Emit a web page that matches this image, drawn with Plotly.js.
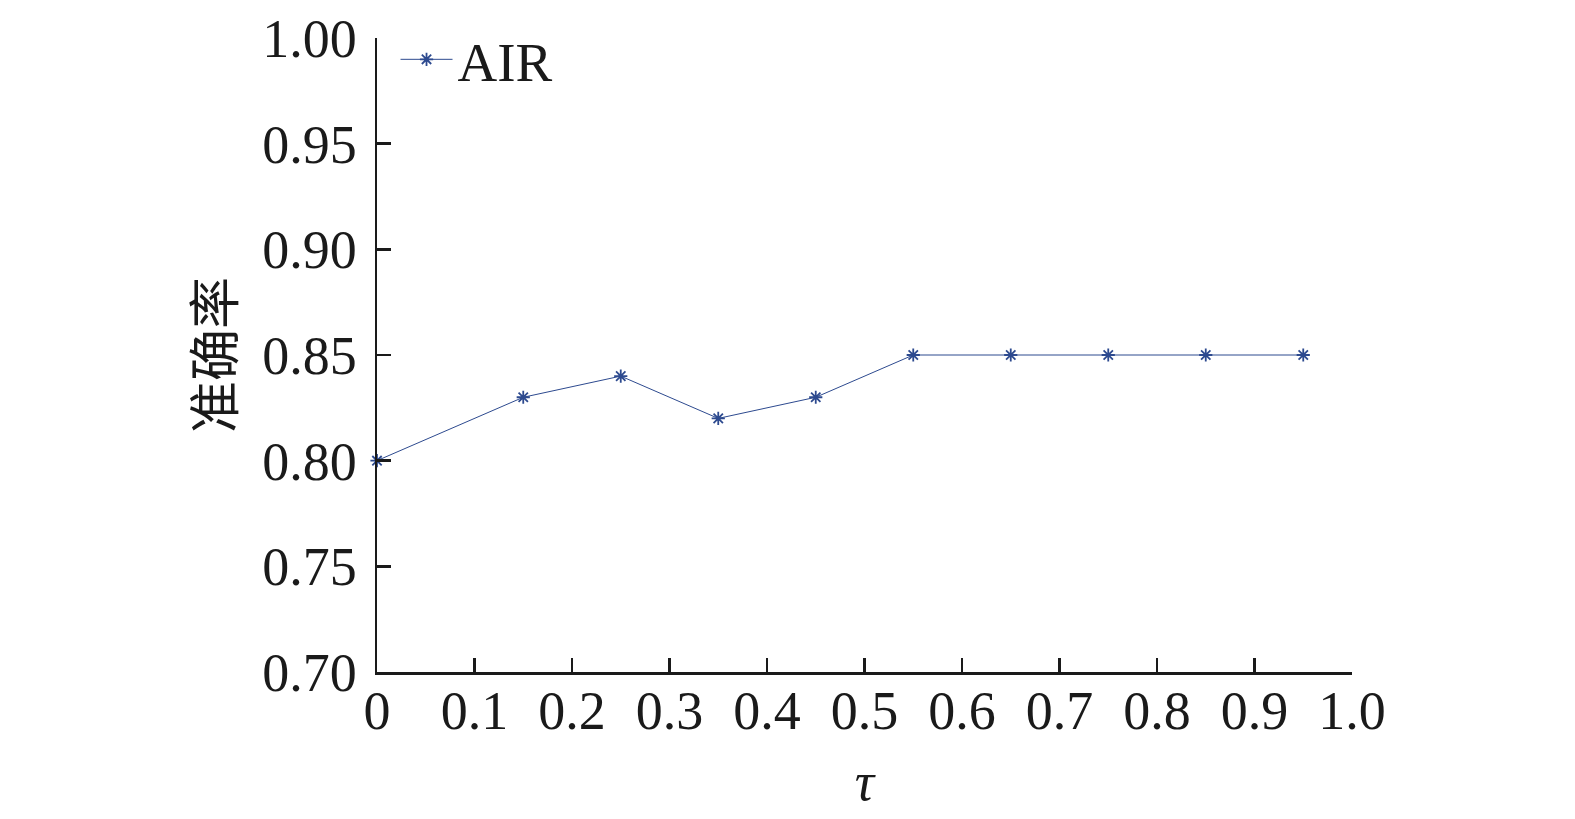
<!DOCTYPE html>
<html>
<head>
<meta charset="utf-8">
<script src="https://cdn.plot.ly/plotly-3.0.1.min.js"></script>
<style>html,body{margin:0;padding:0;background:#fff;}#chart{width:1575px;height:819px;}</style>
</head>
<body>
<div id="chart"></div>
<script>
const tau = [0, 0.15, 0.25, 0.35, 0.45, 0.55, 0.65, 0.75, 0.85, 0.95];
const accuracy = [0.80, 0.83, 0.84, 0.82, 0.83, 0.85, 0.85, 0.85, 0.85, 0.85];
const seriesName = 'AIR';
const xTickVals = [0, 0.1, 0.2, 0.3, 0.4, 0.5, 0.6, 0.7, 0.8, 0.9, 1.0];
const xTickText = ['0', '0.1', '0.2', '0.3', '0.4', '0.5', '0.6', '0.7', '0.8', '0.9', '1.0'];
const yTickVals = [0.70, 0.75, 0.80, 0.85, 0.90, 0.95, 1.00];
const yTickText = ['0.70', '0.75', '0.80', '0.85', '0.90', '0.95', '1.00'];

const serif = '"Liberation Serif", "Times New Roman", serif';
const lineColor = '#2d4a8f';

const trace = {
  x: tau, y: accuracy, name: seriesName, type: 'scatter', mode: 'lines+markers',
  line: {color: lineColor, width: 1},
  marker: {symbol: 'asterisk-open', size: 11, color: lineColor, line: {color: lineColor, width: 1.8}},
  cliponaxis: false
};

const layout = {
  width: 1575, height: 819,
  paper_bgcolor: '#fff', plot_bgcolor: '#fff',
  margin: {l: 377, r: 223, t: 38, b: 147},
  showlegend: true,
  legend: {x: 0.019, y: 1.033, xanchor: 'left', yanchor: 'top', bgcolor: 'rgba(0,0,0,0)',
           font: {family: serif, size: 55, color: '#1a1a1a'}, itemwidth: 52},
  xaxis: {
    range: [0, 1.0], tickmode: 'array', tickvals: xTickVals, ticktext: xTickText,
    showline: true, linecolor: '#1a1a1a', linewidth: 2.5, mirror: false,
    ticks: 'inside', ticklen: 14, tickwidth: 2.5, tickcolor: '#1a1a1a',
    showgrid: false, zeroline: false, ticklabelstandoff: -10,
    tickfont: {family: serif, size: 54, color: '#1a1a1a'},
    title: {text: 'τ', standoff: 22, font: {family: serif, size: 54, color: '#1a1a1a', style: 'italic'}}
  },
  yaxis: {
    range: [0.70, 1.00], tickmode: 'array', tickvals: yTickVals, ticktext: yTickText,
    showline: true, linecolor: '#1a1a1a', linewidth: 2.5,
    ticks: 'inside', ticklen: 14, tickwidth: 2.5, tickcolor: '#1a1a1a',
    showgrid: false, zeroline: false, ticklabelstandoff: 7,
    tickfont: {family: serif, size: 54, color: '#1a1a1a'},
    title: {text: '准确率', standoff: 11, font: {family: '"Noto Sans CJK SC", sans-serif', size: 52, color: '#1a1a1a'}}
  }
};

Plotly.newPlot('chart', [trace], layout, {displayModeBar: false, staticPlot: true});
</script>
</body>
</html>
